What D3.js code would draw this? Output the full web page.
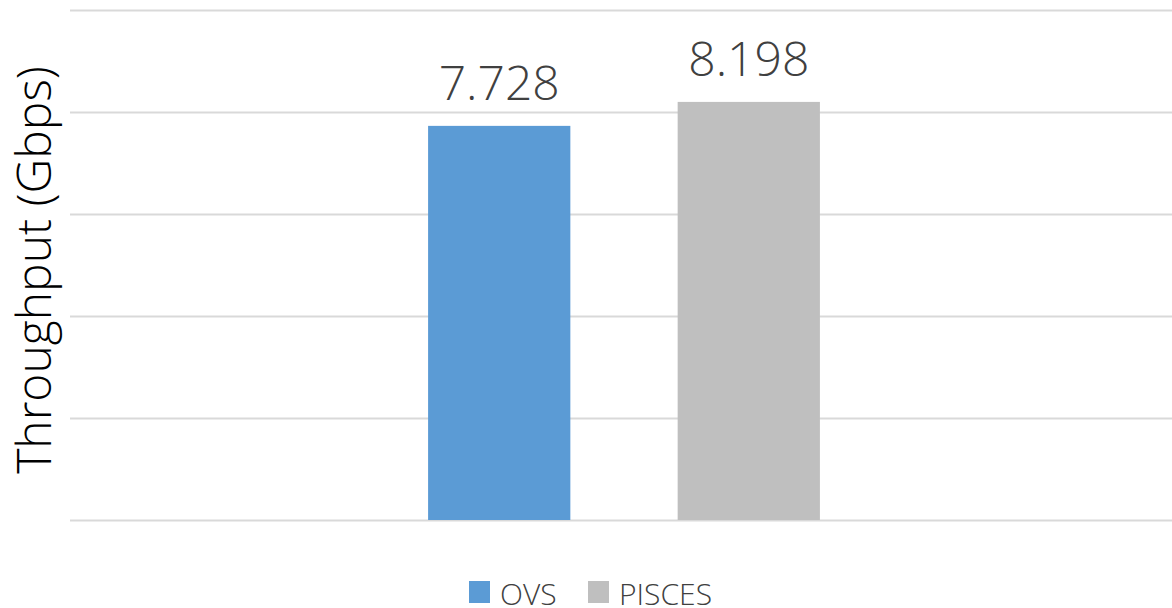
<!DOCTYPE html>
<html>
<head>
<meta charset="utf-8">
<script src="https://cdn.jsdelivr.net/npm/d3@7"></script>
<style>
  html, body { margin: 0; padding: 0; background: #fff; }
  svg { display: block; font-family: "Open Sans", sans-serif; }
</style>
</head>
<body>
<svg id="chart" width="1172" height="608"></svg>
<script>
// data
var categories = [""];
var seriesNames = ["OVS", "PISCES"];
var seriesValues = [7.728, 8.198];
var seriesColors = ["#5b9bd5", "#bfbfbf"];
var yTicks = [0, 2, 4, 6, 8, 10];

var svg = d3.select("#chart"),
    plotLeft = 70,
    plotRight = 1172,
    plotTop = 10,
    plotBottom = 520;

var xScale = d3.scaleBand().domain(categories).range([plotLeft + 6, plotRight]).padding(0.4733),
    xScale1 = d3.scaleBand().domain(seriesNames).range([0, xScale.bandwidth()]).paddingInner(0.43),
    yScale = d3.scaleLinear().domain([0, 10]).range([plotBottom, plotTop]);

var color = d3.scaleOrdinal().domain(seriesNames).range(seriesColors);

// gridlines
svg.append("g")
    .attr("class", "grid")
    .attr("transform", "translate(" + plotLeft + ",0)")
    .call(d3.axisLeft(yScale).tickValues(yTicks).tickSize(-(plotRight - plotLeft)).tickFormat(""))
    .call(function (g) { g.select(".domain").remove(); })
    .selectAll("line")
    .attr("stroke", "#d9d9d9")
    .attr("stroke-width", 2);

var bars = seriesNames.map(function (name, i) {
    return { name: name, value: seriesValues[i] };
});

var slice = svg.selectAll(".slice")
    .data(categories)
    .enter().append("g")
    .attr("class", "slice")
    .attr("transform", function (d) { return "translate(" + xScale(d) + ",0)"; });

slice.selectAll("rect")
    .data(bars).enter().append("rect")
    .attr("x", function (d) { return xScale1(d.name); })
    .attr("width", xScale1.bandwidth())
    .attr("y", function (d) { return yScale(d.value); })
    .attr("height", function (d) { return yScale(0) - yScale(d.value); })
    .style("fill", function (d) { return color(d.name); });

slice.selectAll("text.value")
    .data(bars).enter().append("text")
    .attr("class", "value")
    .attr("x", function (d) { return xScale1(d.name) + xScale1.bandwidth() / 2; })
    .attr("y", function (d) { return yScale(d.value) - 26; })
    .attr("text-anchor", "middle")
    .style("font-size", "48px")
    .style("font-weight", 300)
    .style("fill", "#404040")
    .text(function (d) { return d.value.toFixed(3); });

// y title
svg.append("text")
    .attr("transform", "translate(51,270) rotate(-90)")
    .attr("text-anchor", "middle")
    .style("font-size", "48px")
    .style("font-weight", 300)
    .style("fill", "#000")
    .text("Throughput (Gbps)");

// legend
var legendX = [469, 588];
var legend = svg.selectAll(".legend")
    .data(seriesNames)
    .enter().append("g")
    .attr("class", "legend")
    .attr("transform", function (d, i) { return "translate(" + legendX[i] + ",581)"; });

legend.append("rect")
    .attr("width", 21)
    .attr("height", 22)
    .style("fill", function (d) { return color(d); });

legend.append("text")
    .attr("x", 31)
    .attr("y", 24)
    .style("font-size", "30px")
    .style("font-weight", 300)
    .style("fill", "#404040")
    .text(function (d) { return d; });
</script>
</body>
</html>
